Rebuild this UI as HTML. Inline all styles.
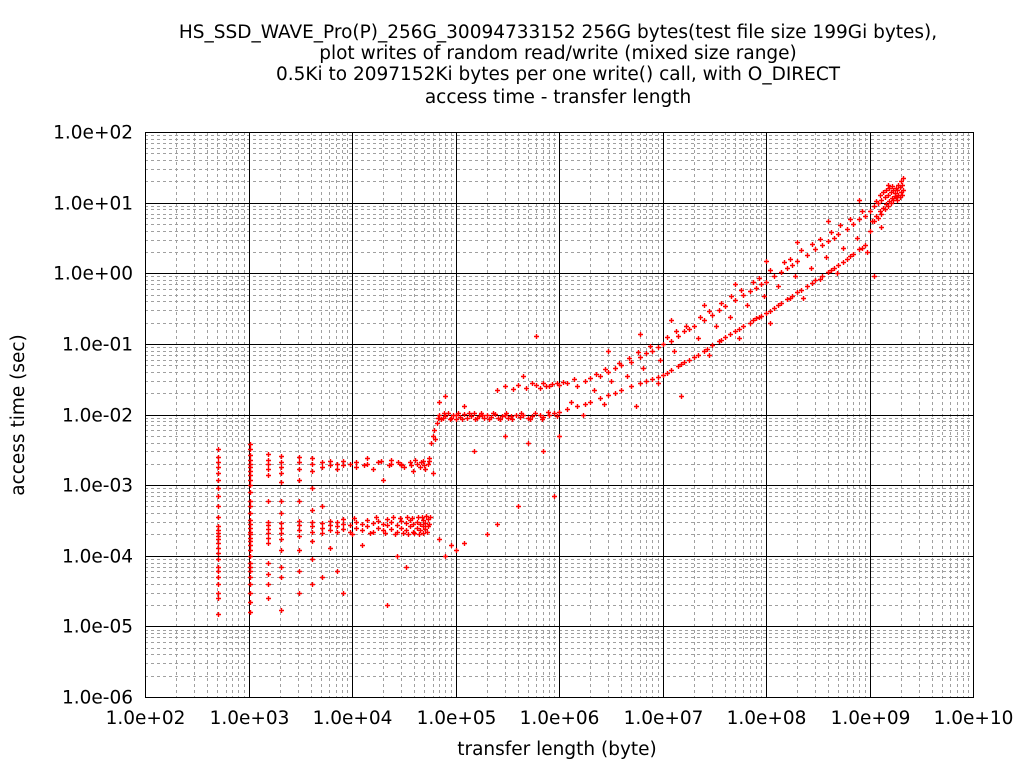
<!DOCTYPE html>
<html><head><meta charset="utf-8"><style>
body{margin:0;background:#fff;font-family:"Liberation Sans",sans-serif}
svg text{font-family:"DejaVu Sans","Liberation Sans",sans-serif}
</style></head><body>
<svg id="chart" width="1024" height="768" viewBox="0 0 1024 768" xmlns="http://www.w3.org/2000/svg">
<rect width="1024" height="768" fill="#fff"/>
<g font-size="18.5" text-anchor="middle" fill="#000">
<text x="558" y="38">HS_SSD_WAVE_Pro(P)_256G_30094733152 256G bytes(test file size 199Gi bytes),</text>
<text x="558" y="59">plot writes of random read/write (mixed size range)</text>
<text x="558" y="80">0.5Ki to 2097152Ki bytes per one write() call, with O_DIRECT</text>
<text x="558" y="103">access time - transfer length</text>
</g>
<g id="grid"></g>
<g id="points"></g>
<g id="axes"></g>
<text x="24" y="415" font-size="18.5" text-anchor="middle" transform="rotate(-90 24 415)">access time (sec)</text>
<text x="557" y="755" font-size="18.5" text-anchor="middle">transfer length (byte)</text>
</svg>
<script>
const xTickLabels=["1.0e+02","1.0e+03","1.0e+04","1.0e+05","1.0e+06","1.0e+07","1.0e+08","1.0e+09","1.0e+10"];
const yTickLabels=["1.0e+02","1.0e+01","1.0e+00","1.0e-01","1.0e-02","1.0e-03","1.0e-04","1.0e-05","1.0e-06"];
const smallWrites=[
[512,1.5e-5],[512,2.5e-5],[512,3e-5],[512,4e-5],[512,5e-5],[512,6e-5],[512,7e-5],[512,9e-5],[512,1.1e-4],[512,1.3e-4],[512,1.5e-4],[512,1.7e-4],[512,1.9e-4],[512,2.1e-4],[512,2.3e-4],[512,2.6e-4],[512,3.5e-4],[512,5e-4],[512,7e-4],[512,9e-4],[512,1.2e-3],[512,1.5e-3],[512,1.8e-3],[512,2.1e-3],[512,2.5e-3],[512,3.2e-3],
[1024,1.6e-5],[1024,2.2e-5],[1024,3e-5],[1024,4e-5],[1024,5e-5],[1024,6e-5],[1024,7e-5],[1024,8e-5],[1024,1e-4],[1024,1.2e-4],[1024,1.4e-4],[1024,1.6e-4],[1024,1.8e-4],[1024,2e-4],[1024,2.2e-4],[1024,2.5e-4],[1024,2.8e-4],[1024,3.2e-4],[1024,4e-4],[1024,5e-4],[1024,6e-4],[1024,8e-4],[1024,1e-3],[1024,1.2e-3],[1024,1.4e-3],[1024,1.6e-3],[1024,1.8e-3],[1024,2e-3],[1024,2.3e-3],[1024,2.7e-3],[1024,3.2e-3],[1024,3.8e-3],
[1536,2.5e-5],[1536,4e-5],[1536,5.5e-5],[1536,8e-5],[1536,1.5e-4],[1536,1.8e-4],[1536,2.1e-4],[1536,2.4e-4],[1536,2.7e-4],[1536,3e-4],[1536,6e-4],[1536,1.4e-3],[1536,1.7e-3],[1536,2e-3],[1536,2.3e-3],[1536,2.8e-3],
[2048,1.7e-5],[2048,5e-5],[2048,7e-5],[2048,1.2e-4],[2048,1.7e-4],[2048,2.1e-4],[2048,2.5e-4],[2048,2.9e-4],[2048,4e-4],[2048,6e-4],[2048,1.1e-3],[2048,1.5e-3],[2048,1.8e-3],[2048,2.1e-3],[2048,2.6e-3],
[3072,3e-5],[3072,6e-5],[3072,1.2e-4],[3072,1.9e-4],[3072,2.3e-4],[3072,2.7e-4],[3072,3.1e-4],[3072,6e-4],[3072,1.2e-3],[3072,1.7e-3],[3072,2.1e-3],[3072,2.5e-3],
[4096,4e-5],[4096,9e-5],[4096,1.6e-4],[4096,2.2e-4],[4096,2.6e-4],[4096,3e-4],[4096,4.5e-4],[4096,9e-4],[4096,1.6e-3],[4096,2e-3],[4096,2.4e-3],
[5120,5e-5],[5120,2.1e-4],[5120,2.5e-4],[5120,2.9e-4],[5120,5e-4],[5120,1.8e-3],[5120,2.1e-3],
[6144,1.3e-4],[6144,2.3e-4],[6144,2.7e-4],[6144,3.1e-4],[6144,1.9e-3],[6144,2.2e-3],
[7168,6e-5],[7168,2.2e-4],[7168,2.6e-4],[7168,3e-4],[7168,1.7e-3],[7168,2e-3],
[8192,3e-5],[8192,2.4e-4],[8192,2.8e-4],[8192,3.3e-4],[8192,1.9e-3],[8192,2.2e-3],
[9500,2.2e-4],[9500,2.7e-4],[9500,2e-3],[11000,2.5e-4],[11000,3e-4],[11000,1.8e-3],[11000,2.1e-3],[12500,2.3e-4],[12500,2.8e-4],[12500,1.4e-4],[14000,2.6e-4],[14000,3.2e-4],[14000,2e-3],[14000,2.4e-3],[16000,2.2e-4],[16000,2.9e-4],[16000,1.7e-3],[18000,2.5e-4],[18000,3.1e-4],[18000,2.1e-3],[20000,2.3e-4],[20000,2.8e-4],[20000,1.2e-3],[22000,2.7e-4],[22000,3.3e-4],[22000,2e-5],[24000,2.4e-4],[24000,3e-4],[24000,2e-3],[24000,2.3e-3],[27000,2.2e-4],[27000,2.7e-4],[27000,1e-4],[30000,2.5e-4],[30000,3.1e-4],[30000,2e-3],[30000,1.9e-3],[33000,2.3e-4],[33000,2.9e-4],[33000,7e-5],[36000,2.6e-4],[36000,3.2e-4],[36000,2.1e-3],[39000,2.2e-4],[39000,2.8e-4],[39000,1.6e-3],[42000,2.5e-4],[42000,3e-4],[42000,2e-3],[45000,2.3e-4],[45000,2.8e-4],[45000,1.8e-3],[48000,2.6e-4],[48000,3.2e-4],[48000,2.2e-3],[51000,2.4e-4],[51000,2.9e-4],[51000,1.7e-3],[54000,2.6e-4],[54000,3.3e-4],[54000,2e-3],[56000,2.8e-4],[56000,2.4e-3],
[10000,2e-4],[10500,3.4e-4],[13000,1.9e-3],[15000,2.1e-4],[17000,3.5e-4],[19000,2.2e-3],[21000,2.1e-4],[23000,1.9e-3],[25000,3.5e-4],[26000,2e-4],[28000,2.1e-3],[29000,3.4e-4],[31000,2.1e-4],[32000,1.8e-3],[34000,3.5e-4],[35000,2e-4],[37000,1.9e-3],[38000,3.4e-4],[40000,2.1e-4],[41000,2.3e-3],[43000,3.5e-4],[44000,2e-4],[46000,2.1e-3],[47000,3.5e-4],[49000,2.1e-4],[50000,1.9e-3],[52000,3.6e-4],[53000,2.2e-4],[55000,2.2e-3],[57000,3.5e-4]
];
const midWrites=[
[58000,4e-3],[60000,5e-3],[62000,6e-3],[64000,4.5e-3],[66000,7.5e-3],[68000,9e-3],[70000,1e-2],[75000,8.8e-3],[80000,9.5e-3],[85000,1.05e-2],[90000,9e-3],[95000,9.8e-3],[100000,1e-2],[100000,8.5e-3],[110000,9.2e-3],[120000,1.02e-2],[130000,9e-3],[140000,9.6e-3],[150000,1.05e-2],[160000,8.8e-3],[170000,9.4e-3],[180000,1e-2],[190000,9e-3],[200000,9.8e-3],[220000,9.2e-3],[240000,1.02e-2],[260000,9e-3],[280000,9.5e-3],[300000,1e-2],[320000,8.8e-3],[340000,9.4e-3],[360000,2.3e-2],[380000,9.8e-3],[400000,2.6e-2],[420000,9.2e-3],[450000,1e-2],[480000,2.4e-2],[500000,9e-3],[550000,9.6e-3],[600000,2.6e-2],[650000,1e-2],[700000,9.2e-3],[750000,2.5e-2],[800000,1e-2],[850000,2.7e-2],[900000,1.05e-2],
[72000,8.6e-3],[78000,1.05e-2],[88000,8.7e-3],[105000,1.06e-2],[115000,8.6e-3],[135000,1.06e-2],[155000,8.7e-3],[175000,1.06e-2],[210000,8.6e-3],[230000,1.06e-2],[270000,8.7e-3],[310000,1.06e-2],[350000,8.6e-3],[430000,1.06e-2],[520000,8.7e-3],[580000,1.06e-2],[680000,8.7e-3],[780000,1.07e-2],[950000,9.5e-3],[550000,2.8e-2],[650000,2.4e-2],[700000,2.8e-2],[800000,2.5e-2],[950000,2.8e-2],
[60000,1.5e-3],[70000,1.7e-4],[80000,1e-4],[90000,1.4e-4],[100000,1.2e-4],[120000,1.5e-4],[150000,3e-3],[200000,2e-4],[250000,2.8e-4],[300000,5e-3],[400000,5e-4],[500000,4e-3],[700000,3e-3],[900000,7e-4],[1000000,5e-3],
[70000,1.5e-2],[80000,1.8e-2],[120000,1.3e-2],[250000,2.2e-2],[300000,2.5e-2],[600000,1.3e-1],[450000,3.5e-2]
];
const largeWrites=[
[1000000,1.1e-2],[1000000,2.6e-2],[1200000,1.2e-2],[1200000,2.8e-2],[1500000,1.3e-2],[1500000,2.5e-2],[1800000,1.4e-2],[1800000,3e-2],[2000000,1.5e-2],[2000000,3.3e-2],[2500000,1.7e-2],[2500000,3.5e-2],[3000000,1.9e-2],[3000000,4e-2],[3500000,2e-2],[3500000,4.5e-2],[4000000,2.2e-2],[4000000,5e-2],[5000000,2.5e-2],[5000000,5.5e-2],[6000000,2.8e-2],[6000000,6.5e-2],[7000000,3e-2],[7000000,7.5e-2],[8000000,3.2e-2],[8000000,8e-2],[9000000,3.4e-2],[9000000,9e-2],[10000000,3.6e-2],[10000000,1e-1],[12000000,4.2e-2],[12000000,1.1e-1],[14000000,4.8e-2],[14000000,1.3e-1],[16000000,5.5e-2],[16000000,1.5e-1],[18000000,6e-2],[18000000,1.6e-1],[20000000,6.5e-2],[20000000,1.8e-1],[25000000,8e-2],[25000000,2.2e-1],[30000000,9.5e-2],[30000000,2.6e-1],[35000000,1.1e-1],[35000000,3e-1],[40000000,1.25e-1],[40000000,3.4e-1],[50000000,1.5e-1],[50000000,4.2e-1],[60000000,1.8e-1],[60000000,5e-1],[70000000,2e-1],[70000000,5.6e-1],[80000000,2.3e-1],[80000000,6.2e-1],[90000000,2.5e-1],[90000000,7e-1],[100000000,2.7e-1],[100000000,7.5e-1],[120000000,3.2e-1],[120000000,9e-1],[140000000,3.8e-1],[140000000,1.05],[160000000,4.3e-1],[160000000,1.2],[180000000,4.8e-1],[180000000,1.3],[200000000,5.5e-1],[200000000,1.5],[250000000,6.5e-1],[250000000,1.8],[300000000,8e-1],[300000000,2.2],[350000000,9e-1],[350000000,2.5],[400000000,1.05],[400000000,2.9],[450000000,1.2],[450000000,3.2],[500000000,1.3],[500000000,3.6],[600000000,1.6],[600000000,4.3],[700000000,1.9],[700000000,5],[800000000,2.2],[800000000,5.8],[900000000,2.5],[900000000,6.5],[1000000000,4],[1000000000,7.5],[1100000000,5.5],[1100000000,9],[1200000000,6],[1200000000,1e1],[1300000000,7],[1300000000,1.1e1],[1400000000,8],[1400000000,1.2e1],[1500000000,9],[1500000000,1.3e1],[1600000000,1e1],[1600000000,1.4e1],[1700000000,1.1e1],[1700000000,1.5e1],[1800000000,1.2e1],[1800000000,1.6e1],[1900000000,1.3e1],[1900000000,1.8e1],[2000000000,1.4e1],[2000000000,2e1],[2100000000,1.5e1],[2100000000,2.2e1],
[1300000,1.5e-2],[2200000,2.2e-2],[3200000,3e-2],[4500000,3.5e-2],[6500000,4.5e-2],[9500000,6e-2],[13000000,8e-2],[22000000,1.2e-1],[33000000,1.8e-1],[45000000,2.4e-1],[65000000,3.5e-1],[95000000,4.8e-1],[130000000,6.5e-1],[190000000,9e-1],[270000000,1.2],[380000000,1.7],[550000000,2.3],[750000000,3.2],[1050000000,5.5],
[1700000,1e-2],[2700000,1.4e-2],[5500000,1.3e-2],[9000000,2.8e-2],[15000000,1.8e-2],[28000000,7e-2],[55000000,1.2e-1],[110000000,2e-1],[230000000,4.5e-1],[480000000,1e0],[950000000,2e0],[1100000000,9e-1],[1300000000,4.5],
[3000000,8e-2],[6000000,1.4e-1],[12000000,2.2e-1],[25000000,3.5e-1],[50000000,7e-1],[100000000,1.5],[200000000,2.8],[400000000,5.5],[800000000,1.1e1],[1500000000,1.8e1],
[1100000,2.9e-2],[1400000,3.2e-2],[2300000,3.8e-2],[2800000,4.4e-2],[3800000,5.4e-2],[4700000,6.3e-2],[5800000,7.6e-2],[7500000,9.4e-2],[11000000,1.25e-1],[13500000,1.5e-1],[17000000,1.8e-1],[23000000,2.4e-1],[28000000,2.9e-1],[37000000,3.8e-1],[46000000,4.7e-1],[57000000,5.8e-1],[75000000,7.4e-1],[85000000,8.6e-1],[110000000,1.1],[150000000,1.45],[170000000,1.6],[220000000,2.1],[280000000,2.6],[330000000,3.1],[420000000,3.9],[520000000,4.8],[650000000,5.8],[850000000,7.6],[1150000000,1.05e1],[1250000000,1.3e1],[1350000000,1.4e1],[1450000000,1.5e1],[1550000000,1.6e1],[1650000000,1.7e1],[1750000000,1.35e1],[1850000000,1.5e1],[1950000000,1.65e1],[2050000000,1.75e1],
[11000000,3.9e-2],[15000000,5.2e-2],[22000000,7e-2],[27000000,8.6e-2],[37000000,1.15e-1],[45000000,1.4e-1],[55000000,1.65e-1],[75000000,2.15e-1],[85000000,2.4e-1],[110000000,2.95e-1],[130000000,3.5e-1],[170000000,4.5e-1],[220000000,5.8e-1],[280000000,7.2e-1],[330000000,8.4e-1],[420000000,1.1],[550000000,1.45],[650000000,1.75],[850000000,2.3],[1150000000,6.5],[1250000000,7.5],[1350000000,8.5],[1450000000,9.5],[1550000000,1.05e1],[1650000000,1.15e1],[1750000000,1.25e1],[1850000000,1.1e1],[1950000000,1.2e1],[2050000000,1.3e1]
];
const NS="http://www.w3.org/2000/svg";
const L=145,R=973,T=132,B=697;
const xMinExp=2,xMaxExp=10,yMinExp=-6,yMaxExp=2;
function xScale(v){return L+(Math.log10(v)-xMinExp)/(xMaxExp-xMinExp)*(R-L);}
function yScale(v){return B-(Math.log10(v)-yMinExp)/(yMaxExp-yMinExp)*(B-T);}
const grid=document.getElementById('grid'),axes=document.getElementById('axes'),pts=document.getElementById('points');
function ln(p,x1,y1,x2,y2,st,dash){const l=document.createElementNS(NS,'line');l.setAttribute('x1',x1);l.setAttribute('y1',y1);l.setAttribute('x2',x2);l.setAttribute('y2',y2);l.setAttribute('stroke',st);l.setAttribute('stroke-width',1);if(dash)l.setAttribute('stroke-dasharray',dash);p.appendChild(l);return l;}
for(let e=xMinExp;e<xMaxExp;e++){for(let m=2;m<10;m++){const x=Math.round(xScale(m*Math.pow(10,e)))+0.5;
const g=ln(grid,x,T,x,B,'#a0a0a0','3,3');

}}
for(let e=yMinExp;e<yMaxExp;e++){for(let m=2;m<10;m++){const y=Math.round(yScale(m*Math.pow(10,e)))+0.5;
const g=ln(grid,L,y,R,y,'#a0a0a0','3,3');

}}
xTickLabels.forEach((t,i)=>{const x=Math.round(xScale(Math.pow(10,xMinExp+i)))+0.5;
const g=ln(grid,x,T,x,B,'#000');


const tx=document.createElementNS(NS,'text');tx.setAttribute('x',x);tx.setAttribute('y',724);tx.setAttribute('font-size','18.5');tx.setAttribute('text-anchor','middle');tx.textContent=t;


axes.appendChild(tx);});
yTickLabels.forEach((t,i)=>{const y=Math.round(yScale(Math.pow(10,yMaxExp-i)))+0.5;
const g=ln(grid,L,y,R,y,'#000');


const tx=document.createElementNS(NS,'text');tx.setAttribute('x',133);tx.setAttribute('y',y+6);tx.setAttribute('font-size','18.5');tx.setAttribute('text-anchor','end');tx.textContent=t;


axes.appendChild(tx);});
const frame=document.createElementNS(NS,'rect');frame.setAttribute('x',L+0.5);frame.setAttribute('y',T+0.5);frame.setAttribute('width',R-L);frame.setAttribute('height',B-T);frame.setAttribute('fill','none');frame.setAttribute('stroke','#000');


axes.appendChild(frame);
function plot(arr,name){arr.forEach(p=>{const x=Math.round(xScale(p[0])),y=Math.round(yScale(p[1]));
const path=document.createElementNS(NS,'path');path.setAttribute('d',`M${x-2},${y+0.5}h5M${x+0.5},${y-2}v5`);path.setAttribute('stroke','#f00');path.setAttribute('stroke-width','1.4');


pts.appendChild(path);});}
plot(smallWrites,'small-write-point');
plot(midWrites,'mid-write-point');
plot(largeWrites,'large-write-point');
</script>
</body></html>
